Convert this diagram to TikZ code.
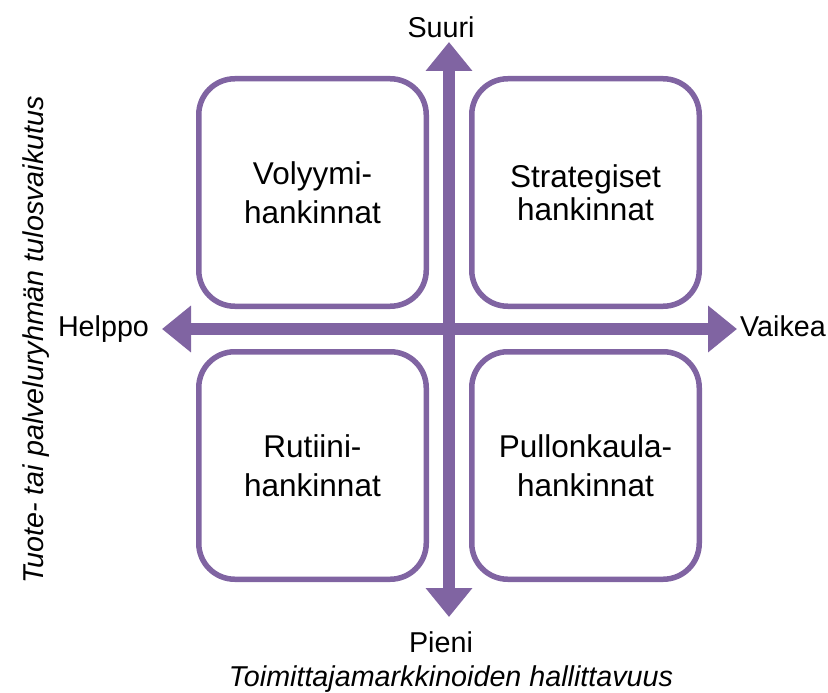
\documentclass[tikz,border=0pt]{standalone}
\usepackage{fontspec}
\setmainfont{Liberation Sans}
\usetikzlibrary{arrows.meta}
\definecolor{matrixpurple}{RGB}{128,100,162}
\tikzset{
  quadbox/.style={draw=matrixpurple, line width=5.5pt, rounded corners=36pt,
    minimum width=227.5pt, minimum height=227.5pt, align=center, inner sep=0pt,
    text=black},
  axisline/.style={matrixpurple, line width=12pt,
    {Triangle[length=29pt,width=45pt]}-{Triangle[length=29pt,width=45pt]}},
  axislabel/.style={font=\fontsize{28.7}{34}\selectfont, inner sep=0pt, anchor=base},
}
\begin{document}
\begin{tikzpicture}[x=1pt,y=-1pt]
\useasboundingbox (0,0) rectangle (828,693);
% quadrant boxes
\node[quadbox, font=\fontsize{31.5}{33}\selectfont] (tl) at (312.5,192.5) {Volyymi-\\[6pt]hankinnat};
\node[quadbox, font=\fontsize{31.5}{33}\selectfont] (tr) at (585.5,192.5) {Strategiset\\hankinnat};
\node[quadbox, font=\fontsize{31.5}{33}\selectfont] (bl) at (312.5,465.5) {Rutiini-\\[6pt]hankinnat};
\node[quadbox, font=\fontsize{31.5}{33}\selectfont] (br) at (585.5,465.5) {Pullonkaula-\\[6pt]hankinnat};
% axes
\coordinate (N) at (449,42);
\coordinate (S) at (449,617);
\coordinate (W) at (162,329);
\coordinate (E) at (737,329);
\draw[axisline] (W) -- (E);
\draw[axisline] (S) -- (N);
% axis labels
\node[axislabel] (suuri) at (441,38) {Suuri};
\node[axislabel] (pieni) at (441,652) {Pieni};
\node[axislabel] (helppo) at (103.5,336) {Helppo};
\node[axislabel] (vaikea) at (783,336) {Vaikea};
\node[axislabel, font=\fontsize{28.7}{34}\selectfont\itshape] (xlab) at (451,686) {Toimittajamarkkinoiden hallittavuus};
\node[axislabel, font=\fontsize{28.7}{34}\selectfont\itshape, rotate=90] (ylab) at (43,340) {Tuote- tai palveluryhmän tulosvaikutus};
\end{tikzpicture}
\end{document}
